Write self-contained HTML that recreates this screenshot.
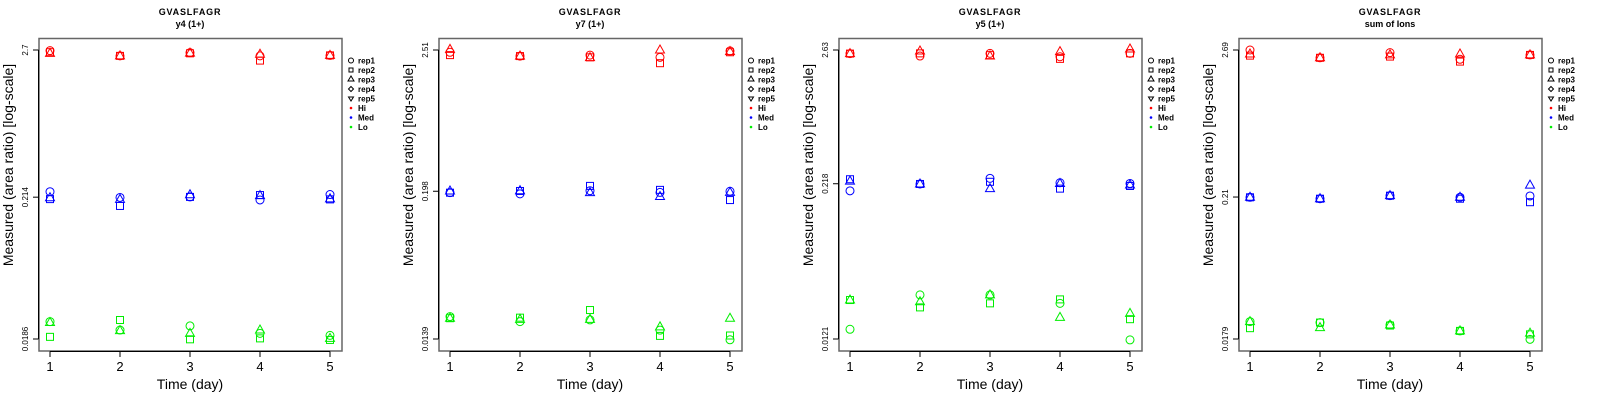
<!DOCTYPE html>
<html><head><meta charset="utf-8"><style>
body{margin:0;background:#fff;}
svg{display:block;font-family:"Liberation Sans",sans-serif;}
</style></head><body>
<svg id="chart" width="1600" height="400" viewBox="0 0 1600 400"></svg>
<script>
const days = [1, 2, 3, 4, 5];
const titles = ["y4 (1+)", "y7 (1+)", "y5 (1+)", "sum of Ions"];
const tickLabels = [["2.7","0.214","0.0186"],["2.51","0.198","0.0139"],["2.63","0.218","0.0121"],["2.69","0.21","0.0179"]];
const tickValues = [[2.7,0.214,0.0186],[2.51,0.198,0.0139],[2.63,0.218,0.0121],[2.69,0.21,0.0179]];
// values[panel][level][rep][day]  levels: Hi, Med, Lo ; reps: rep1 (circle), rep2 (square), rep3 (triangle)
const p1Hi  = [[2.67,2.44,2.58,2.44,2.46],[2.6,2.44,2.55,2.25,2.46],[2.55,2.44,2.56,2.51,2.46]];
const p1Med = [[0.235,0.213,0.215,0.204,0.224],[0.207,0.184,0.215,0.222,0.206],[0.212,0.206,0.223,0.220,0.208]];
const p1Lo  = [[0.0251,0.0217,0.0233,0.0205,0.0198],[0.0193,0.0258,0.0185,0.0188,0.0183],[0.0247,0.0215,0.0205,0.0217,0.0188]];
const p2Hi  = [[2.41,2.25,2.29,2.20,2.47],[2.29,2.25,2.20,1.98,2.41],[2.54,2.25,2.19,2.51,2.44]];
const p2Med = [[0.193,0.189,0.200,0.194,0.198],[0.193,0.199,0.218,0.203,0.169],[0.199,0.200,0.193,0.180,0.194]];
const p2Lo  = [[0.0208,0.0190,0.0196,0.0163,0.0137],[0.0202,0.0204,0.0234,0.0147,0.0148],[0.0202,0.0198,0.0198,0.0173,0.0202]];
const p3Hi  = [[2.46,2.35,2.47,2.32,2.47],[2.46,2.47,2.39,2.23,2.47],[2.46,2.58,2.35,2.55,2.68]];
const p3Med = [[0.191,0.217,0.241,0.222,0.219],[0.237,0.217,0.226,0.199,0.209],[0.229,0.217,0.199,0.219,0.213]];
const p3Lo  = [[0.0145,0.0275,0.0275,0.0235,0.0119],[0.0250,0.0218,0.0235,0.0253,0.0175],[0.0250,0.0242,0.0275,0.0181,0.0195]];
const p4Hi  = [[2.69,2.35,2.57,2.29,2.47],[2.44,2.35,2.40,2.20,2.47],[2.51,2.35,2.47,2.51,2.47]];
const p4Med = [[0.209,0.204,0.215,0.209,0.214],[0.209,0.204,0.215,0.204,0.192],[0.209,0.204,0.215,0.209,0.258]];
const p4Lo  = [[0.0242,0.0238,0.0228,0.0206,0.0178],[0.0216,0.0238,0.0226,0.0206,0.0194],[0.0242,0.0218,0.0228,0.0206,0.0198]];
const panels = [[p1Hi,p1Med,p1Lo],[p2Hi,p2Med,p2Lo],[p3Hi,p3Med,p3Lo],[p4Hi,p4Med,p4Lo]];
const levelColors = ["#ff0000","#0000ff","#00ee00"];
const levelNames = ["Hi","Med","Lo"];
const legendLabels = ["rep1","rep2","rep3","rep4","rep5","Hi","Med","Lo"];

const NS = "http://www.w3.org/2000/svg";
const svg = document.getElementById("chart");
function mk(tag, attrs, parent) {
  const e = document.createElementNS(NS, tag);
  for (const k in attrs) e.setAttribute(k, attrs[k]);
  (parent || svg).appendChild(e);
  return e;
}
function txt(s, attrs, parent) { const e = mk("text", attrs, parent); e.textContent = s; return e; }

function shape(kind, x, y, color, parent, r) {
  r = r || 4;
  let e;
  if (kind === 0) e = mk("circle", {cx:x, cy:y, r:r, fill:"none", stroke:color, "stroke-width":1}, parent);
  else if (kind === 1) e = mk("rect", {x:x-r+0.5, y:y-r+0.5, width:2*r-1, height:2*r-1, fill:"none", stroke:color, "stroke-width":1}, parent);
  else if (kind === 2) e = mk("polygon", {points:`${x},${y-r-1} ${x-r-0.5},${y+r-1} ${x+r+0.5},${y+r-1}`, fill:"none", stroke:color, "stroke-width":1}, parent);
  else if (kind === 3) e = mk("polygon", {points:`${x},${y-r} ${x+r},${y} ${x},${y+r} ${x-r},${y}`, fill:"none", stroke:color, "stroke-width":1}, parent);
  else e = mk("polygon", {points:`${x},${y+r} ${x-r},${y-r+1} ${x+r},${y-r+1}`, fill:"none", stroke:color, "stroke-width":1}, parent);
  return e;
}
const repNames = ["rep1","rep2","rep3"];

panels.forEach((panel, pi) => {
  const ox = 400 * pi;
  const g = mk("g", {transform:`translate(${ox},0)`});
  
  
  const tv = tickValues[pi];
  const lmax = Math.log10(tv[0]), lmin = Math.log10(tv[2]);
  const yS = v => 339 - (Math.log10(v) - lmin) / (lmax - lmin) * 289;
  const xS = d => 50 + (d - 1) * 70;

  const t1 = txt("GVASLFAGR", {x:190, y:15, "text-anchor":"middle", "font-size":9, "font-weight":"bold", "letter-spacing":"0.8"}, g);
  
  
  const t2 = txt(titles[pi], {x:190, y:27, "text-anchor":"middle", "font-size":9, "font-weight":"bold"}, g);
  
  

  const box = mk("rect", {x:39, y:38.5, width:303, height:312.5, fill:"none", stroke:"#666", "stroke-width":1.5}, g);
  
  

  // y axis
  const ya = mk("g", {}, g);
  
  
  mk("line", {x1:38.5, x2:38.5, y1:yS(tv[0]), y2:yS(tv[2]), stroke:"#000"}, ya);
  tv.forEach((v, i) => {
    const y = yS(v);
    mk("line", {x1:33, x2:38.5, y1:y, y2:y, stroke:"#000"}, ya);
    const tl = txt(tickLabels[pi][i], {x:0, y:0, transform:`translate(28,${y}) rotate(-90)`, "text-anchor":"middle", "font-size":8}, ya);
    
    
  });
  const yt = txt("Measured (area ratio) [log-scale]", {x:0, y:0, transform:"translate(13,165) rotate(-90)", "text-anchor":"middle", "font-size":14}, g);
  
  

  // x axis
  const xa = mk("g", {}, g);
  
  
  mk("line", {x1:xS(days[0]), x2:xS(days[days.length-1]), y1:351.5, y2:351.5, stroke:"#000"}, xa);
  days.forEach(d => {
    mk("line", {x1:xS(d), x2:xS(d), y1:351.5, y2:357, stroke:"#000"}, xa);
    const tl = txt(String(d), {x:xS(d), y:371, "text-anchor":"middle", "font-size":13}, xa);
    
    
  });
  const xt = txt("Time (day)", {x:190, y:389, "text-anchor":"middle", "font-size":14}, g);
  
  

  // points
  panel.forEach((level, li) => {
    level.forEach((series, ri) => {
      series.forEach((v, di) => {
        const p = shape(ri, xS(days[di]), yS(v), levelColors[li], g);
        
        
      });
    });
  });

  // legend
  const lg = mk("g", {}, g);
  
  
  legendLabels.forEach((lab, i) => {
    const y = 60.5 + i * 9.5;
    const ent = mk("g", {}, lg);
    
    
    if (i < 5) shape(i, 351, y, "#000", ent, 2.5);
    else mk("circle", {cx:351, cy:y, r:1.3, fill:levelColors[i-5]}, ent);
    txt(lab, {x:358, y:y + 3, "font-size":8, "font-weight":"bold"}, ent);
  });
});
</script>
</body></html>
